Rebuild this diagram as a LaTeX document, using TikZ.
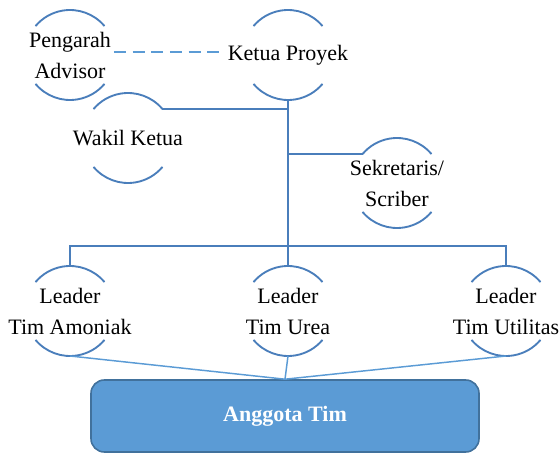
\documentclass[tikz,border=0pt]{standalone}
\usepackage{fontspec}
\setmainfont{Liberation Serif}
\usepackage{tikz}
\usetikzlibrary{calc}
\definecolor{orgline}{RGB}{74,126,187}
\definecolor{orglight}{RGB}{91,155,213}
\definecolor{orgedge}{RGB}{65,113,156}

\tikzset{
  ring/.style={circle, minimum size=67.5pt, inner sep=0pt, outer sep=0pt},
  ringarc/.style={draw=orgline, line width=1.4pt},
  txt/.style={align=center, font=\fontsize{16.5}{23.25}\selectfont, inner sep=2pt},
  conn/.style={draw=orgline, line width=1.3pt},
  botconn/.style={draw=orglight, line width=1.1pt},
  dashconn/.style={draw=orglight, line width=1.3pt, dash pattern=on 9pt off 5pt},
  teambox/.style={draw=orgedge, fill=orglight, line width=1.2pt, rounded corners=10pt,
    minimum width=291pt, minimum height=54pt, text=white,
    font=\bfseries\fontsize{16.5}{20}\selectfont}
}

\begin{document}
\begin{tikzpicture}[x=0.75pt,y=0.75pt]
  \useasboundingbox (0,0) rectangle (560,453);

  % Lingkaran tiap jabatan
  \node[ring] (peng) at (70,398) {};
  \node[ring] (ketua) at (288,398) {};
  \node[ring] (wakil) at (128,315) {};
  \node[ring] (sekre) at (397,270) {};
  \node[ring] (ldA) at (70,142) {};
  \node[ring] (ldU) at (288,142) {};
  \node[ring] (ldT) at (506,142) {};

  % Teks jabatan
  \node[txt] (pengT) at (peng) {Pengarah\\Advisor};
  \node[txt] (ketuaT) at (ketua) {Ketua Proyek};
  \node[txt] (wakilT) at (wakil) {Wakil Ketua};
  \node[txt] (sekreT) at (sekre) {Sekretaris/\\Scriber};
  \node[txt] (ldAT) at (ldA) {Leader\\Tim Amoniak};
  \node[txt] (ldUT) at (ldU) {Leader\\Tim Urea};
  \node[txt] (ldTT) at (ldT) {Leader\\Tim Utilitas};

  % Kotak anggota
  \node[teambox] (team) at (285,37) {Anggota Tim};

  % Busur atas dan bawah
  \foreach \nm in {peng,ketua,wakil,sekre,ldA,ldU,ldT} {
    \draw[ringarc] (\nm.40) arc[start angle=40, end angle=140, radius=33.75pt];
    \draw[ringarc] (\nm.220) arc[start angle=220, end angle=320, radius=33.75pt];
  }

  % Garis penghubung
  \coordinate (bus) at (288,207);
  \draw[dashconn] ([yshift=2pt]pengT.east) -- ([yshift=2pt]pengT.east -| ketuaT.west);
  \draw[conn] (ketua.south) -- (bus);
  \draw[conn] (wakil.40) -- (wakil.40 -| ketua.south);
  \draw[conn] (sekre.140) -- (sekre.140 -| ketua.south);
  \draw[conn] (ldA.north) |- (bus) -| (ldT.north);
  \draw[conn] (bus) -- (ldU.north);
  \foreach \nm in {ldA,ldU,ldT} {
    \draw[botconn] (\nm.south) -- (team.north);
  }
\end{tikzpicture}
\end{document}
